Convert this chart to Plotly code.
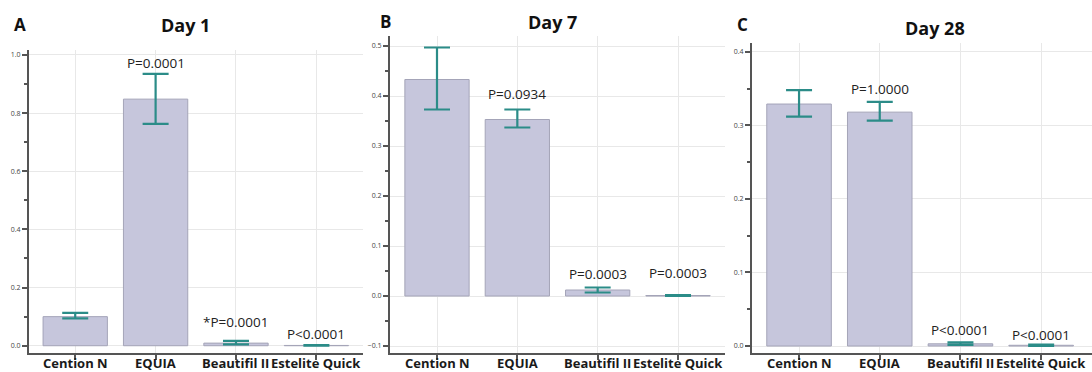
import plotly.graph_objects as go

categories = ["Cention N", "EQUIA", "Beautifil II", "Estelite Quick"]

day1_mean = [0.100, 0.848, 0.009, 0.001]
day1_err_up = [0.013, 0.087, 0.008, 0.001]
day1_err_dn = [0.006, 0.085, 0.004, 0.001]
day1_pvals = ["", "P=0.0001", "*P=0.0001", "P<0.0001"]

day7_mean = [0.433, 0.353, 0.012, 0.001]
day7_err_up = [0.064, 0.020, 0.005, 0.001]
day7_err_dn = [0.060, 0.016, 0.005, 0.001]
day7_pvals = ["", "P=0.0934", "P=0.0003", "P=0.0003"]

day28_mean = [0.329, 0.318, 0.003, 0.001]
day28_err_up = [0.019, 0.014, 0.002, 0.001]
day28_err_dn = [0.017, 0.0115, 0.0015, 0.001]
day28_pvals = ["", "P=1.0000", "P<0.0001", "P<0.0001"]

panel_letters = ["A", "B", "C"]
panel_titles = ["Day 1", "Day 7", "Day 28"]

W, H = 1092, 372
BAR = "#c6c6dc"
BAR_LINE = "#a4a4b8"
TEAL = "#2b8c88"
AXIS = "#555555"
GRID = "#e8e8e8"
FONT = "Open Sans"

panels = [
    dict(mean=day1_mean, up=day1_err_up, dn=day1_err_dn, p=day1_pvals,
         xpx=(29, 363), ytop=50, yrange=[-0.025, 1.017], dtick=0.2, minor=0.1,
         tickfmt=".1f", pshift=[0, 11, 19, 11], xr=[-0.575, 3.58]),
    dict(mean=day7_mean, up=day7_err_up, dn=day7_err_dn, p=day7_pvals,
         xpx=(390, 725), ytop=36, yrange=[-0.114, 0.52], dtick=0.1, minor=0.05,
         tickfmt=".1f", pshift=[0, 16, 14, 22], xr=[-0.585, 3.585]),
    dict(mean=day28_mean, up=day28_err_up, dn=day28_err_dn, p=day28_pvals,
         xpx=(752, 1092), ytop=43, yrange=[-0.0095, 0.412], dtick=0.1, minor=0.05,
         tickfmt=".1f", pshift=[0, 13, 12, 10], xr=[-0.583, 3.63]),
]

ybottom = 353
fig = go.Figure()
annotations = []
layout = {}

for i, pn in enumerate(panels):
    n = "" if i == 0 else str(i + 1)
    xa, ya = "x" + n, "y" + n
    fig.add_trace(go.Bar(
        x=categories, y=pn["mean"], xaxis=xa, yaxis=ya,
        width=0.8,
        marker=dict(color=BAR, line=dict(color=BAR_LINE, width=1)),
        error_y=dict(type="data", symmetric=False, array=pn["up"], arrayminus=pn["dn"],
                     color=TEAL, thickness=2.2, width=13),
        showlegend=False, hoverinfo="skip",
    ))
    x0, x1 = pn["xpx"]
    layout["xaxis" + n] = dict(
        domain=[x0 / W, x1 / W], anchor=ya, type="category",
        range=pn["xr"],
        showgrid=True, gridcolor=GRID, gridwidth=1,
        showline=True, linecolor=AXIS, linewidth=2,
        ticks="outside", ticklen=5, tickwidth=1.5, tickcolor=AXIS,
        showticklabels=False,
        zeroline=False, fixedrange=True,
    )
    layout["yaxis" + n] = dict(
        domain=[1 - ybottom / H, 1 - pn["ytop"] / H], anchor=xa,
        range=pn["yrange"], dtick=pn["dtick"], tick0=0, tickformat=pn["tickfmt"],
        showgrid=True, gridcolor=GRID, gridwidth=1,
        showline=True, linecolor=AXIS, linewidth=2,
        ticks="outside", ticklen=5, tickwidth=1.5, tickcolor=AXIS,
        tickfont=dict(family=FONT, size=7, color="#444444"),
        minor=dict(dtick=pn["minor"], tick0=0, ticks="outside", ticklen=3,
                   tickcolor=AXIS, showgrid=False),
        zeroline=False, fixedrange=True,
    )
    for j, cat in enumerate(categories):
        # category labels drawn as text below the axis
        annotations.append(dict(
            x=cat, y=1 - 363 / H, xref=xa, yref="paper",
            text="<b>%s</b>" % cat, showarrow=False, yanchor="middle",
            xanchor="center", borderpad=0,
            font=dict(family=FONT, size=13, color="#1a1a1a"),
        ))
        if pn["p"][j]:
            annotations.append(dict(
                x=cat, y=pn["mean"][j] + pn["up"][j], xref=xa, yref=ya,
                text=pn["p"][j], showarrow=False, yanchor="middle",
                yshift=pn["pshift"][j],
                font=dict(family=FONT, size=13.5, color="#222222"),
            ))

# panel letters and titles
letter_pos = [(20, 25), (385, 22), (742, 25)]
title_pos = [(185, 25), (552, 22), (935, 28)]
for k in range(3):
    lx, ly = letter_pos[k]
    tx, ty = title_pos[k]
    annotations.append(dict(x=lx / W, y=1 - ly / H, xref="paper", yref="paper",
                            text="<b>%s</b>" % panel_letters[k], showarrow=False,
                            xanchor="center", yanchor="middle",
                            font=dict(family=FONT, size=17, color="#111111")))
    annotations.append(dict(x=tx / W, y=1 - ty / H, xref="paper", yref="paper",
                            text="<b>%s</b>" % panel_titles[k], showarrow=False,
                            xanchor="center", yanchor="middle",
                            font=dict(family=FONT, size=18, color="#111111")))

fig.update_layout(
    width=W, height=H,
    margin=dict(l=0, r=0, t=0, b=0),
    paper_bgcolor="white", plot_bgcolor="white",
    annotations=annotations,
    bargap=0.2,
    **layout,
)

fig.write_html("out.html",
               config={"displayModeBar": False},
               post_script="document.body.style.margin='0';document.body.style.overflow='hidden';")
